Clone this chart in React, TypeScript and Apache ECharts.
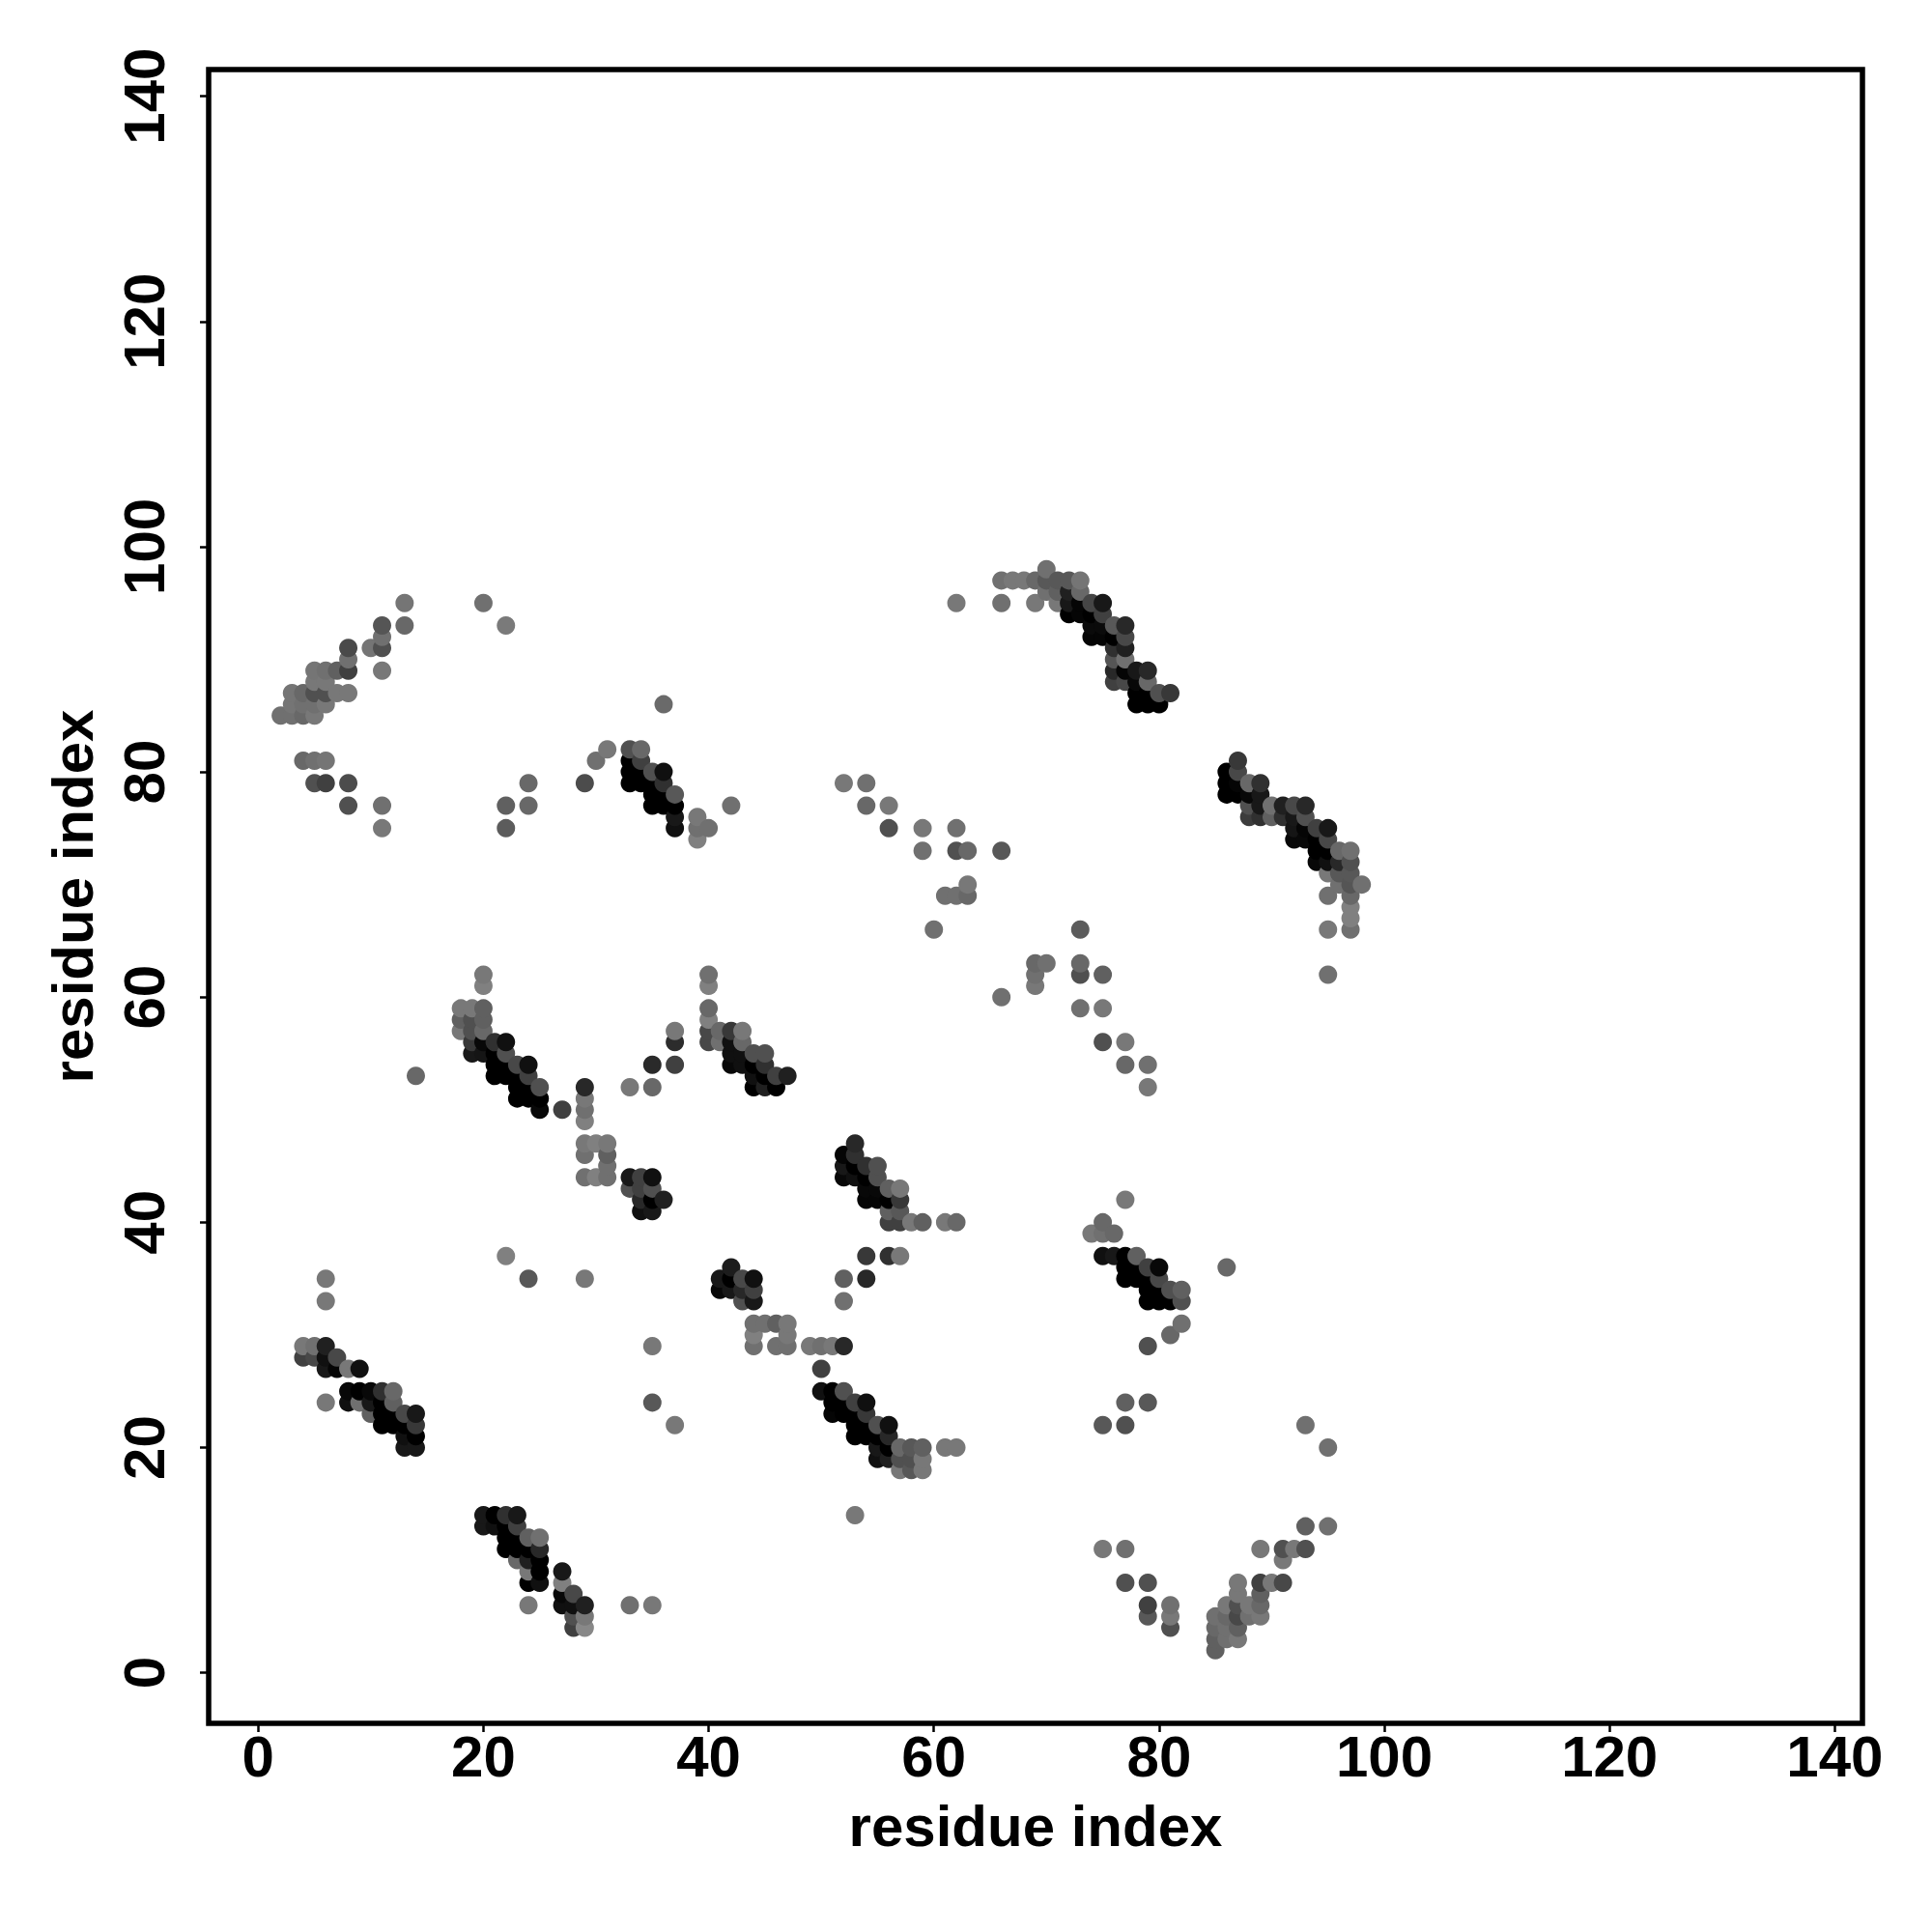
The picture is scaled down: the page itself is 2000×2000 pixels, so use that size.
import React, { useEffect, useRef } from "react";
import * as echarts from "echarts";

const xTickValues = [0, 20, 40, 60, 80, 100, 120, 140];
const yTickValues = [0, 20, 40, 60, 80, 100, 120, 140];
const axisTitle = "residue index";

type P = [number, number, number];

const clusterUpperLeft: P[] = [
  [13,95,0x75],[20,95,0x70],[22,93,0x7a],[13,93,0x68],[11,93,0x55],[11,92,0x70],[11,91,0x50],[10,91,0x75],[11,89,0x78],
  [8,91,0x4a],[8,90,0x70],[8,89,0x40],[7,89,0x60],[6,89,0x70],[5,89,0x75],[5,88,0x78],[6,88,0x78],[5,87,0x50],[6,87,0x50],
  [7,87,0x78],[8,87,0x78],[3,87,0x75],[4,87,0x68],[3,86,0x75],[4,86,0x70],[5,86,0x70],[6,86,0x78],[2,85,0x70],[3,85,0x70],
  [4,85,0x68],[5,85,0x78],[4,81,0x68],[5,81,0x70],[6,81,0x75],[5,79,0x50],[6,79,0x40],[8,79,0x4c],[8,77,0x50],[11,77,0x70],
  [11,75,0x78],[22,77,0x60],[24,77,0x68],[24,79,0x68],[22,75,0x5c],[29,79,0x4c],[30,81,0x70],[31,82,0x78],[36,86,0x6a],
];
const clusterThirtyEighty: P[] = [
  [33,82,0x50],[34,82,0x68],[33,81,0x00],[33,80,0x00],[33,79,0x00],[34,81,0x40],[35,80,0x50],[36,80,0x10],[34,80,0x00],
  [34,79,0x00],[35,79,0x00],[36,79,0x30],[35,78,0x00],[36,78,0x00],[37,78,0x58],[35,77,0x00],[36,77,0x00],[37,77,0x00],
  [37,76,0x18],[37,75,0x10],[39,76,0x78],[39,75,0x70],[40,75,0x70],[39,74,0x80],[42,77,0x70],
];
const clusterMidScatter: P[] = [
  [52,79,0x78],[54,79,0x70],[54,77,0x68],[56,77,0x78],[56,75,0x50],[59,75,0x78],[59,73,0x70],[60,66,0x70],[62,75,0x70],
  [62,73,0x50],[63,73,0x68],[66,73,0x58],[63,70,0x78],[61,69,0x70],[62,69,0x70],[63,69,0x68],[73,66,0x5c],[66,60,0x70],
  [69,63,0x68],[69,62,0x70],[69,61,0x78],[70,63,0x70],[73,63,0x68],[73,62,0x50],[75,62,0x60],[73,59,0x70],[75,59,0x78],
  [75,56,0x50],[77,56,0x78],[77,54,0x68],[79,54,0x70],[79,52,0x78],[95,62,0x70],
];
const clusterSeventyNinety: P[] = [
  [62,95,0x78],[66,95,0x70],[69,95,0x78],[71,95,0x78],[66,97,0x70],[67,97,0x78],[68,97,0x78],[69,97,0x68],[70,97,0x58],
  [71,97,0x58],[72,97,0x58],[73,97,0x75],[70,98,0x70],[70,96,0x70],[71,96,0x60],[73,96,0x68],[72,96,0x20],[72,95,0x18],
  [73,95,0x05],[74,95,0x45],[75,95,0x18],[72,94,0x00],[73,94,0x05],[74,94,0x00],[75,94,0x40],[74,93,0x0a],[75,93,0x0a],
  [76,93,0x58],[77,93,0x28],[74,92,0x05],[75,92,0x05],[76,92,0x00],[77,92,0x48],[76,91,0x30],[77,91,0x20],[76,90,0x55],
  [77,90,0x70],[76,89,0x28],[77,89,0x05],[78,89,0x18],[79,89,0x28],[76,88,0x40],[77,88,0x48],[78,88,0x08],[79,88,0x68],
  [78,87,0x00],[79,87,0x00],[80,87,0x50],[81,87,0x38],[78,86,0x00],[79,86,0x00],[80,86,0x00],
];
const clusterEightyNinety: P[] = [
  [87,81,0x38],[86,80,0x00],[87,80,0x48],[86,79,0x00],[87,79,0x05],[88,79,0x68],[89,79,0x30],[86,78,0x00],[87,78,0x00],
  [88,78,0x08],[89,78,0x18],[88,77,0x50],[89,77,0x18],[90,77,0x70],[91,77,0x20],[92,77,0x48],[93,77,0x28],[88,76,0x3c],
  [89,76,0x30],[90,76,0x60],[91,76,0x30],[92,76,0x18],[93,76,0x50],[92,75,0x15],[93,75,0x05],[94,75,0x40],[95,75,0x18],
  [92,74,0x08],[93,74,0x08],[94,74,0x00],[95,74,0x48],[94,73,0x00],[95,73,0x00],[96,73,0x68],[97,73,0x70],[94,72,0x08],
  [95,72,0x10],[96,72,0x28],[97,72,0x50],[96,71,0x58],[95,71,0x78],[97,71,0x58],[96,70,0x70],[97,70,0x55],[98,70,0x70],
  [95,69,0x70],[97,69,0x68],[97,68,0x80],[97,67,0x80],[97,66,0x70],[95,66,0x78],
];
const clusterTwentyFifty: P[] = [
  [14,53,0x68],[20,62,0x78],[20,61,0x80],[18,59,0x78],[19,59,0x78],[20,59,0x60],[18,58,0x60],[19,58,0x50],[20,58,0x60],
  [18,57,0x78],[19,57,0x50],[20,57,0x68],[19,56,0x38],[20,56,0x08],[21,56,0x30],[22,56,0x10],[19,55,0x18],[20,55,0x15],
  [21,55,0x00],[22,55,0x50],[21,54,0x00],[22,54,0x00],[23,54,0x48],[24,54,0x10],[21,53,0x00],[22,53,0x00],[23,53,0x00],
  [24,53,0x40],[23,52,0x00],[24,52,0x00],[25,52,0x50],[23,51,0x00],[24,51,0x00],[25,51,0x00],[25,50,0x08],[27,50,0x40],
  [29,52,0x28],[29,51,0x78],[29,50,0x70],[29,49,0x80],[33,52,0x78],[35,52,0x68],[35,54,0x2a],[37,54,0x40],[37,56,0x2c],
  [37,57,0x78],
];
const clusterFortyFifty: P[] = [
  [40,62,0x70],[40,61,0x80],[40,59,0x68],[40,58,0x80],[40,57,0x48],[41,57,0x68],[42,57,0x38],[43,57,0x78],[40,56,0x48],
  [41,56,0x70],[42,56,0x10],[43,56,0x68],[42,55,0x10],[43,55,0x10],[44,55,0x50],[45,55,0x50],[42,54,0x08],[43,54,0x10],
  [44,54,0x00],[45,54,0x30],[44,53,0x10],[45,53,0x00],[46,53,0x40],[47,53,0x20],[44,52,0x00],[45,52,0x20],[46,52,0x00],
];
const clusterThirtyForty: P[] = [
  [29,47,0x78],[30,47,0x80],[31,47,0x78],[29,46,0x70],[31,46,0x60],[31,45,0x70],[29,44,0x70],[30,44,0x80],[31,44,0x70],
  [33,44,0x18],[34,44,0x40],[35,44,0x10],[33,43,0x50],[34,43,0x40],[35,43,0x50],[34,42,0x28],[35,42,0x00],[36,42,0x20],
  [34,41,0x10],[35,41,0x18],
];
const clusterLowerLeft: P[] = [
  [6,35,0x78],[6,33,0x78],[22,37,0x80],[24,35,0x58],[29,35,0x78],[35,29,0x78],[35,24,0x58],[37,22,0x78],[4,29,0x78],
  [5,29,0x70],[6,29,0x20],[4,28,0x40],[5,28,0x48],[6,28,0x10],[7,28,0x48],[6,27,0x18],[7,27,0x05],[8,27,0x78],[9,27,0x10],
  [6,24,0x78],[8,25,0x08],[9,25,0x00],[10,25,0x08],[11,25,0x30],[12,25,0x68],[8,24,0x10],[9,24,0x70],[10,24,0x18],
  [11,24,0x00],[12,24,0x60],[10,23,0x60],[11,23,0x00],[12,23,0x00],[13,23,0x48],[14,23,0x18],[11,22,0x00],[12,22,0x00],
  [13,22,0x00],[14,22,0x38],[13,21,0x10],[14,21,0x00],[13,20,0x18],[14,20,0x18],
];
const clusterBottomLeft: P[] = [
  [20,14,0x18],[21,14,0x00],[22,14,0x30],[23,14,0x18],[20,13,0x18],[21,13,0x10],[22,13,0x00],[23,13,0x40],[22,12,0x00],
  [23,12,0x00],[24,12,0x60],[25,12,0x70],[22,11,0x00],[23,11,0x00],[24,11,0x00],[25,11,0x28],[23,10,0x68],[24,10,0x20],
  [25,10,0x00],[24,9,0x78],[25,9,0x00],[24,8,0x00],[25,8,0x10],[27,9,0x18],[27,8,0x80],[28,7,0x48],[27,7,0x08],[27,6,0x10],
  [28,6,0x10],[29,6,0x20],[24,6,0x78],[33,6,0x70],[35,6,0x78],[28,5,0x50],[29,5,0x78],[28,4,0x40],[29,4,0x88],
];
const clusterFiftySixty: P[] = [
  [53,47,0x28],[52,46,0x05],[53,46,0x30],[54,45,0x30],[55,45,0x50],[52,45,0x18],[53,45,0x00],[52,44,0x08],[53,44,0x10],
  [54,44,0x00],[55,44,0x50],[54,43,0x08],[55,43,0x08],[56,43,0x60],[57,43,0x78],[54,42,0x05],[55,42,0x05],[56,42,0x00],
  [57,42,0x38],[56,41,0x60],[57,41,0x58],[56,40,0x40],[57,40,0x40],[58,40,0x78],[59,40,0x60],[61,40,0x78],[62,40,0x68],
  [54,37,0x38],[56,37,0x30],[57,37,0x78],[52,35,0x60],[54,35,0x28],[52,33,0x70],
];
const clusterForties: P[] = [
  [42,36,0x1c],[41,35,0x18],[42,35,0x00],[43,35,0x48],[44,35,0x10],[41,34,0x08],[42,34,0x18],[43,34,0x28],[44,34,0x40],
  [43,33,0x50],[44,33,0x18],[44,31,0x70],[45,31,0x70],[46,31,0x60],[47,31,0x78],[44,30,0x80],[47,30,0x78],[44,29,0x70],
  [46,29,0x70],[47,29,0x70],[49,29,0x78],[50,29,0x70],[51,29,0x78],[52,29,0x28],[50,27,0x40],
];
const clusterFiftyTwenty: P[] = [
  [50,25,0x10],[51,25,0x00],[52,25,0x50],[51,24,0x00],[52,24,0x00],[53,24,0x40],[54,24,0x10],[51,23,0x05],[52,23,0x00],
  [53,23,0x00],[54,23,0x38],[53,22,0x00],[54,22,0x00],[55,22,0x50],[56,22,0x10],[53,21,0x00],[54,21,0x00],[55,21,0x00],
  [56,21,0x28],[55,20,0x18],[56,20,0x00],[57,20,0x68],[58,20,0x58],[59,20,0x60],[61,20,0x78],[62,20,0x78],[55,19,0x10],
  [56,19,0x20],[57,19,0x50],[58,19,0x50],[59,19,0x78],[57,18,0x78],[58,18,0x58],[59,18,0x78],[53,14,0x78],
];
const clusterSeventyEightyForty: P[] = [
  [77,42,0x78],[75,40,0x68],[74,39,0x78],[75,39,0x70],[76,39,0x68],[75,37,0x10],[76,37,0x18],[77,37,0x00],[78,37,0x60],
  [77,36,0x00],[78,36,0x00],[79,36,0x40],[80,36,0x08],[77,35,0x00],[78,35,0x00],[79,35,0x00],[80,35,0x48],[79,34,0x00],
  [80,34,0x00],[81,34,0x50],[82,34,0x60],[79,33,0x00],[80,33,0x00],[81,33,0x00],[82,33,0x50],[82,31,0x70],[81,30,0x68],
  [79,29,0x50],[86,36,0x68],
];
const clusterLowerRight: P[] = [
  [77,24,0x60],[79,24,0x58],[75,22,0x58],[77,22,0x50],[93,22,0x70],[95,20,0x70],[75,11,0x78],[77,11,0x70],[77,8,0x50],
  [79,8,0x50],[79,6,0x40],[81,6,0x70],[79,5,0x58],[81,5,0x78],[81,4,0x50],[93,13,0x60],[95,13,0x70],[89,11,0x78],
  [91,11,0x50],[92,11,0x78],[93,11,0x50],[91,10,0x78],[87,8,0x78],[89,8,0x40],[90,8,0x78],[91,8,0x48],[87,7,0x78],
  [89,7,0x60],[86,6,0x78],[87,6,0x50],[88,6,0x78],[89,6,0x68],[85,5,0x70],[86,5,0x68],[87,5,0x48],[88,5,0x70],[89,5,0x78],
  [85,4,0x68],[86,4,0x70],[87,4,0x60],[85,3,0x60],[86,3,0x70],[87,3,0x78],[85,2,0x60],
];

const allPoints: P[] = [
  ...clusterUpperLeft, ...clusterThirtyEighty, ...clusterMidScatter, ...clusterSeventyNinety, ...clusterEightyNinety,
  ...clusterTwentyFifty, ...clusterFortyFifty, ...clusterThirtyForty, ...clusterLowerLeft, ...clusterBottomLeft,
  ...clusterFiftySixty, ...clusterForties, ...clusterFiftyTwenty, ...clusterSeventyEightyForty, ...clusterLowerRight,
].sort((a, b) => a[0] - b[0] || a[1] - b[1]);

const FONT = "'Liberation Sans', Arial, Helvetica, sans-serif";

export default function App() {
  const ref = useRef<HTMLDivElement>(null);
  useEffect(() => {
    const chart = echarts.init(ref.current!, null, { renderer: "svg" });
    const axisCommon = {
      type: "value" as const,
      name: axisTitle,
      nameLocation: "middle" as const,
      nameTextStyle: { fontFamily: FONT, fontWeight: "bold" as const, fontSize: 60, color: "#000" },
      axisLine: { show: false, onZero: false },
      splitLine: { show: false },
    };
    chart.setOption({
      animation: false,
      backgroundColor: "#fff",
      grid: { left: 216, top: 72, width: 1712, height: 1712, show: true, borderColor: "#000", borderWidth: 5.5, backgroundColor: "transparent", containLabel: false },
      xAxis: {
        ...axisCommon,
        min: -4.4,
        max: 142.46,
        nameGap: 76,
        axisTick: { show: true, length: 9, lineStyle: { color: "#000", width: 2.5 }, customValues: xTickValues },
        axisLabel: { show: true, margin: 4, fontFamily: FONT, fontWeight: "bold", fontSize: 60, color: "#000", customValues: xTickValues, formatter: (v: number) => String(v) },
      },
      yAxis: {
        ...axisCommon,
        min: -4.49,
        max: 142.37,
        nameGap: 111,
        axisTick: { show: true, length: 9, lineStyle: { color: "#000", width: 2.5 }, customValues: yTickValues },
        axisLabel: { show: true, rotate: 90, margin: 67, fontFamily: FONT, fontWeight: "bold", fontSize: 60, color: "#000", align: "center", verticalAlign: "middle", customValues: yTickValues, formatter: (v: number) => String(v) },
      },
      series: [
        {
          type: "scatter",
          symbol: "circle",
          symbolSize: 19,
          silent: true,
          data: allPoints.map(([x, y, g]) => ({
            value: [x, y],
            itemStyle: { color: `rgb(${g},${g},${g})`, opacity: 1 },
          })),
        },
      ],
    });
    return () => chart.dispose();
  }, []);
  return <div ref={ref} style={{ position: "absolute", left: 0, top: 0, width: 2000, height: 2000 }} />;
}
